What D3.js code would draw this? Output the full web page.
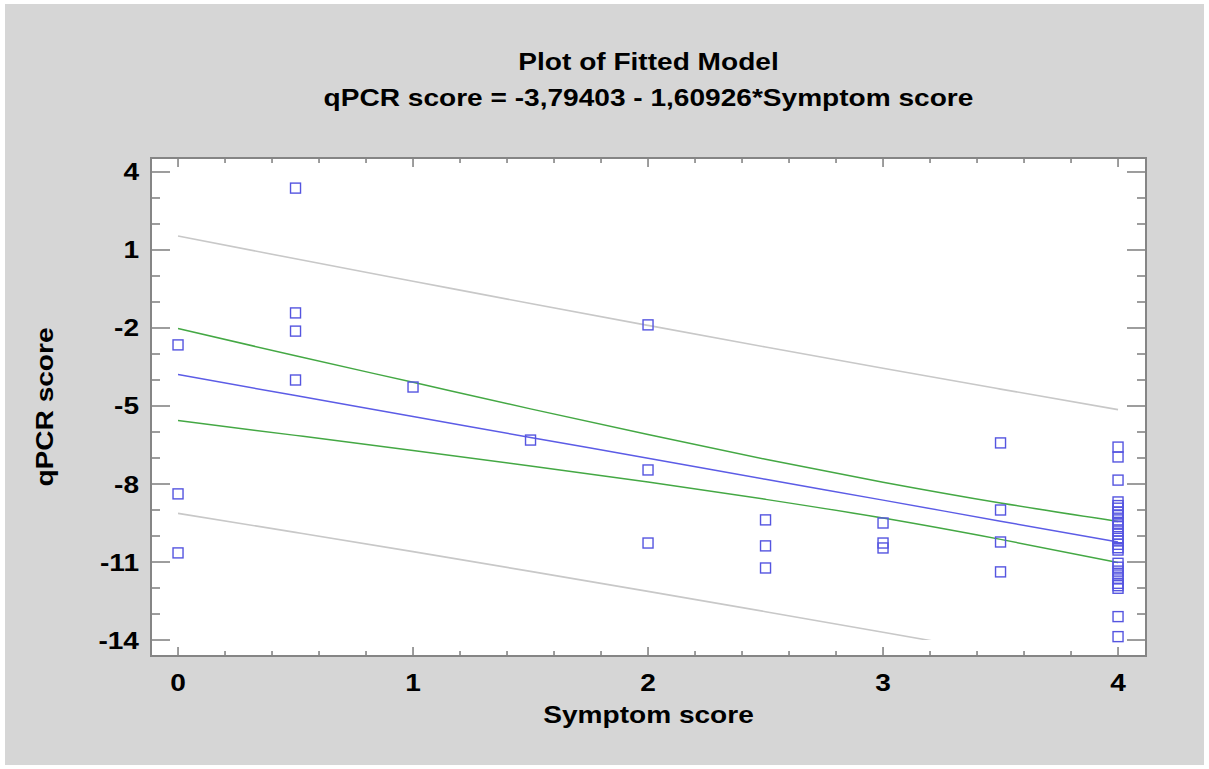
<!DOCTYPE html>
<html>
<head>
  <script src="https://d3js.org/d3.v7.min.js"></script>
  <style>
    body { margin: 0; background: #fff; }
    text { font-family: "Liberation Sans", Arial, sans-serif; font-weight: bold; fill: #000; }
  </style>
</head>
<body>
<script type="text/javascript">

  // data
  var xTicks = [0, 1, 2, 3, 4];
  var yTicks = [-14, -11, -8, -5, -2, 1, 4];

  var symptom = [0, 0, 0,
    0.5, 0.5, 0.5, 0.5,
    1, 1.5,
    2, 2, 2,
    2.5, 2.5, 2.5,
    3, 3, 3,
    3.5, 3.5, 3.5, 3.5,
    4, 4, 4, 4, 4, 4, 4, 4, 4, 4, 4, 4, 4, 4, 4, 4, 4, 4,
    4, 4, 4, 4, 4, 4, 4, 4, 4, 4];
  var qpcr = [-2.65, -8.38, -10.65,
    3.38, -1.42, -2.12, -4.0,
    -4.27, -6.31,
    -1.88, -7.46, -10.27,
    -9.38, -10.38, -11.23,
    -9.5, -10.27, -10.46,
    -6.42, -9.0, -10.23, -11.38,
    -6.58, -6.96, -7.85, -8.69, -8.83, -8.93, -9.09, -9.19, -9.38, -9.51, -9.64, -9.81, -9.93, -10.09, -10.19, -10.32, -10.45, -10.54,
    -11.05, -11.2, -11.35, -11.5, -11.65, -11.82, -11.91, -12.01, -13.1, -13.87];

  var bandX   = [0, 0.5, 1, 1.5, 2, 2.5, 3, 3.5, 4];
  var fitY    = [-3.79, -4.6, -5.4, -6.21, -7.01, -7.82, -8.62, -9.43, -10.23];
  var ciUpper = [-2.02, -3.07, -4.09, -5.11, -6.1, -7.05, -7.93, -8.73, -9.44];
  var ciLower = [-5.56, -6.13, -6.71, -7.31, -7.92, -8.59, -9.31, -10.13, -11.02];
  var piUpper = [1.54, 0.66, -0.2, -1.06, -1.9, -2.73, -3.55, -4.35, -5.14];
  var piLower = [-9.13, -9.86, -10.6, -11.36, -12.13, -12.91, -13.7, -14.5, -15.32];

  var title1 = "Plot of Fitted Model";
  var title2 = "qPCR score = -3,79403 - 1,60926*Symptom score";
  var xTitle = "Symptom score";
  var yTitle = "qPCR score";

  var W = 1209, H = 769;
  var plot = {left: 151, right: 1146, top: 158, bottom: 656};
  var sx = 1.17; // the original font is a bit wider than Arial

  var svg = d3.select("body").append("svg")
    .attr("width", W)
    .attr("height", H);

  svg.append("rect")
    .attr("x", 5).attr("y", 4)
    .attr("width", W - 10).attr("height", H - 8)
    .attr("fill", "#d6d6d6");

  var x = d3.scaleLinear().domain([-0.115, 4.119]).range([plot.left, plot.right]);
  var y = d3.scaleLinear().domain([-14.615, 4.538]).range([plot.bottom, plot.top]);

  svg.append("rect")
    .attr("x", plot.left).attr("y", plot.top)
    .attr("width", plot.right - plot.left)
    .attr("height", plot.bottom - plot.top)
    .attr("fill", "#fff");

  function label(text, tx, ty, anchor, rot) {
    return svg.append("text")
      .attr("transform", "translate(" + tx + "," + ty + ")" + (rot ? " rotate(" + rot + ")" : "") + " scale(" + sx + ",1)")
      .attr("text-anchor", anchor)
      .style("font-size", "24px")
      .text(text);
  }

  // ticks
  var tickColor = "#858585";
  var ticks = svg.append("g").attr("stroke", tickColor).attr("stroke-width", 1.6);

  var xMinor = d3.range(0, 21).map(function(i) { return i * 0.2; });
  var yMinor = d3.range(-14, 5);

  xMinor.forEach(function(v) {
    var major = Math.abs(v - Math.round(v)) < 1e-6;
    var len = major ? 9 : 5;
    ticks.append("line").attr("x1", x(v)).attr("x2", x(v))
      .attr("y1", plot.bottom).attr("y2", plot.bottom - len);
    ticks.append("line").attr("x1", x(v)).attr("x2", x(v))
      .attr("y1", plot.top).attr("y2", plot.top + len);
  });

  yMinor.forEach(function(v) {
    var major = yTicks.indexOf(v) >= 0;
    var len = major ? 19 : 9;
    ticks.append("line").attr("y1", y(v)).attr("y2", y(v))
      .attr("x1", plot.left).attr("x2", plot.left + len);
    ticks.append("line").attr("y1", y(v)).attr("y2", y(v))
      .attr("x1", plot.right).attr("x2", plot.right - len);
  });

  // lines
  var clip = svg.append("clipPath").attr("id", "clipLow")
    .append("rect")
    .attr("x", plot.left).attr("y", plot.top)
    .attr("width", plot.right - plot.left)
    .attr("height", y(-14) - plot.top);

  function band(vals) {
    return d3.line()
      .x(function(d, i) { return x(bandX[i]); })
      .y(function(d) { return y(d); })
      .curve(d3.curveMonotoneX)(vals);
  }

  svg.append("path").attr("d", band(piUpper)).attr("fill", "none").attr("stroke", "#c8c8c8").attr("stroke-width", 1.6);
  svg.append("path").attr("d", band(piLower)).attr("fill", "none").attr("stroke", "#c8c8c8").attr("stroke-width", 1.6)
    .attr("clip-path", "url(#clipLow)");
  svg.append("path").attr("d", band(ciUpper)).attr("fill", "none").attr("stroke", "#44a844").attr("stroke-width", 1.5);
  svg.append("path").attr("d", band(ciLower)).attr("fill", "none").attr("stroke", "#44a844").attr("stroke-width", 1.5);
  svg.append("path").attr("d", band(fitY)).attr("fill", "none").attr("stroke", "#5c5ce6").attr("stroke-width", 1.5);

  // points
  var s = 10;
  svg.append("g").selectAll("rect")
    .data(symptom)
    .enter().append("rect")
    .attr("x", function(d) { return x(d) - s / 2; })
    .attr("y", function(d, i) { return y(qpcr[i]) - s / 2; })
    .attr("width", s).attr("height", s)
    .attr("fill", "none")
    .attr("stroke", "#5555e0")
    .attr("stroke-width", 1.4);

  // frame
  svg.append("rect")
    .attr("x", plot.left).attr("y", plot.top)
    .attr("width", plot.right - plot.left)
    .attr("height", plot.bottom - plot.top)
    .attr("fill", "none")
    .attr("stroke", tickColor)
    .attr("stroke-width", 2);

  // tick labels
  xTicks.forEach(function(v) { label(String(v), x(v), 691, "middle"); });
  yTicks.forEach(function(v) { label(String(v), 139, y(v) + 8.5, "end"); });

  // titles
  var cx = (plot.left + plot.right) / 2;
  label(title1, cx, 70, "middle");
  label(title2, cx, 106, "middle");
  label(xTitle, cx, 723, "middle");
  label(yTitle, 53, 407, "middle", -90);

</script>
</body>
</html>
